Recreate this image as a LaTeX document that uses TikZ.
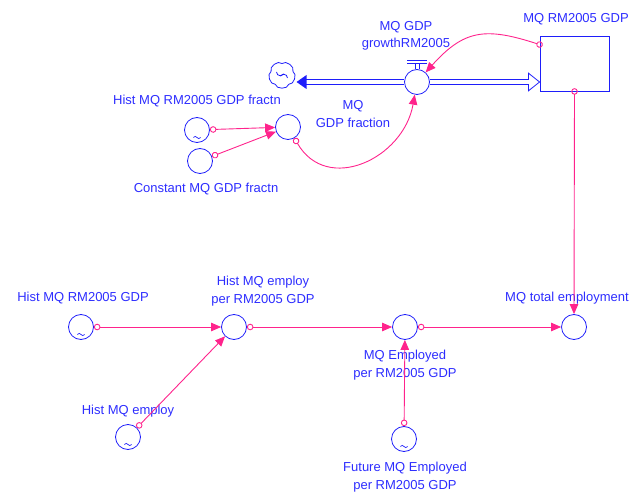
\documentclass[tikz,border=0pt]{standalone}
\usepackage{fontspec}
\setmainfont{Liberation Sans}
\usetikzlibrary{arrows.meta,calc}
\definecolor{vblue}{RGB}{30,30,250}
\definecolor{tblue}{RGB}{45,45,255}
\definecolor{vpink}{RGB}{255,35,140}
\begin{document}
\begin{tikzpicture}[x=1pt,y=1pt,
  aux/.style={circle,draw=vblue,line width=0.8pt,minimum size=25pt,inner sep=0pt},
  lbl/.style={text=tblue,font=\fontsize{13}{17.5}\selectfont,align=center,inner sep=0pt},
  link/.style={draw=vpink,line width=0.9pt,
    {Circle[open,length=6.5pt,width=6.5pt]}-{Triangle[length=10pt,width=8.5pt]}},
  pipe/.style={draw=vblue,line width=0.9pt,double=white,double distance=3.6pt},
  plainline/.style={draw=vblue,line width=0.8pt},
  tildeline/.style={draw=vblue,line width=0.7pt},
]
\useasboundingbox (0,0) rectangle (631,493);

% stock, valve and source/sink cloud
\node[draw=vblue,line width=0.9pt,minimum width=69pt,minimum height=55pt,inner sep=0pt] (stock) at (574.5,429.5) {};
\node[aux] (valve) at (417,411) {};
\coordinate (cloud) at (282,418);
\draw[plainline,line join=round]
  ($(cloud)+(90:11.5)$) to[bend right=80] ($(cloud)+(162:11.5)$)
  to[bend right=80] ($(cloud)+(234:11.5)$) to[bend right=80] ($(cloud)+(306:11.5)$)
  to[bend right=80] ($(cloud)+(18:11.5)$) to[bend right=80] cycle;
\draw[plainline] ($(cloud)+(-5.5,3)$) arc[start angle=180,end angle=330,radius=3.8];
\draw[plainline] ($(cloud)+(5.5,-3)$) arc[start angle=0,end angle=150,radius=3.8];

% valve handle
\draw[plainline] ($(valve.north)+(-2,0)$) -- ++(0,6) ($(valve.north)+(2,0)$) -- ++(0,6);
\draw[plainline] ($(valve.north)+(-10,6)$) -- ++(20,0) ($(valve.north)+(-10,8.4)$) -- ++(20,0);

% outflow pipe into the cloud
\coordinate (sinktip) at ($(cloud |- valve.center)+(14.5,0)$);
\draw[pipe] (valve.west) -- ($(sinktip)+(9,0)$);
\fill[vblue] (sinktip) -- ++(10,7) -- ++(0,-14) -- cycle;

% inflow pipe into the stock
\coordinate (stocktip) at (stock.west |- valve.center);
\draw[pipe] (valve.east) -- ($(stocktip)+(-11,0)$);
\draw[plainline,line join=miter] ($(stocktip)+(-11,2.25)$) -- ++(0,6.5) -- (stocktip)
      -- ($(stocktip)+(-11,-8.75)$) -- ++(0,6.5);

% auxiliaries
\node[aux] (hfr) at (197,363) {};
\node[aux] (cfr) at (200,332) {};
\node[aux] (gfr) at (288,366) {};
\node[aux] (hgdp) at (81,166) {};
\node[aux] (hper) at (234,166) {};
\node[aux] (hemp) at (128,56) {};
\node[aux] (mqe) at (405,166) {};
\node[aux] (fut) at (404,54) {};
\node[aux] (tot) at (574,166) {};

% lookup marks
\foreach \v in {hfr,hgdp,hemp,fut}
  \draw[tildeline] ($(\v)+(-3.6,-7.5)$) sin ++(1.8,1.1) cos ++(1.8,-1.1)
                   sin ++(1.8,-1.1) cos ++(1.8,1.1);

% labels
\node[lbl] (stock-l) at (576,474) {MQ RM2005 GDP};
\node[lbl] (valve-l) at (406,457) {MQ GDP\\growthRM2005};
\node[lbl] (hfr-l) at (197,392) {Hist MQ RM2005 GDP fractn};
\node[lbl] (gfr-l) at (353,379) {MQ\\GDP fraction};
\node[lbl] (cfr-l) at (206,304) {Constant MQ GDP fractn};
\node[lbl] (hgdp-l) at (83,195) {Hist MQ RM2005 GDP};
\node[lbl] (hper-l) at (263,202) {Hist MQ employ\\per RM2005 GDP};
\node[lbl] (hemp-l) at (128,82) {Hist MQ employ};
\node[lbl] (tot-l) at (567,195) {MQ total employment};
\node[lbl] (mqe-l) at (405,128) {MQ Employed\\per RM2005 GDP};
\node[lbl] (fut-l) at (405,16) {Future MQ Employed\\per RM2005 GDP};

% links
\coordinate (stocklink) at ($(stock.north west)+(0,-9)$);
\draw[link,shorten <=-3.25pt] (stocklink) to[out=162,in=48,looseness=1.25] (valve);
\draw[link,shorten <=-3.25pt] (stock.south) -- (tot.north);
\draw[link] (hfr) -- (gfr);
\draw[link] (cfr) -- (gfr);
\draw[link] (gfr) to[out=-60,in=-100,looseness=1.3] (valve);
\draw[link] (hgdp) -- (hper);
\draw[link] (hemp) -- (hper);
\draw[link] (hper) -- (mqe);
\draw[link] (fut) -- (mqe);
\draw[link] (mqe) -- (tot);
\end{tikzpicture}
\end{document}
